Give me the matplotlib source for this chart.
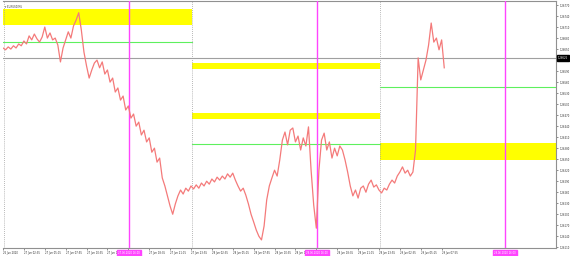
import numpy as np
import matplotlib.pyplot as plt
from matplotlib.patches import Rectangle
import matplotlib.transforms as mtransforms

# EURUSD M5 closes, one value every 20 minutes from 26 Jun 2020 23:55
close = [
    1.26653, 1.26648, 1.26656, 1.26650, 1.26659, 1.26653, 1.26664, 1.26659, 1.26672, 1.26664,
    1.26686, 1.26675, 1.26691, 1.26678, 1.26669, 1.26683, 1.26710, 1.26680, 1.26694, 1.26675,
    1.26680, 1.26661, 1.26615, 1.26653, 1.26675, 1.26697, 1.26680, 1.26713, 1.26729, 1.26749,
    1.26702, 1.26642, 1.26604, 1.26571, 1.26593, 1.26612, 1.26620, 1.26599, 1.26615, 1.26582,
    1.26593, 1.26560, 1.26571, 1.26533, 1.26544, 1.26511, 1.26522, 1.26484, 1.26495, 1.26462,
    1.26473, 1.26440, 1.26451, 1.26416, 1.26429, 1.26397, 1.26408, 1.26369, 1.26380, 1.26342,
    1.26353, 1.26299, 1.26277, 1.26250, 1.26222, 1.26200, 1.26228, 1.26250, 1.26266, 1.26255,
    1.26271, 1.26263, 1.26277, 1.26269, 1.26280, 1.26271, 1.26285, 1.26277, 1.26290, 1.26282,
    1.26296, 1.26288, 1.26301, 1.26293, 1.26304, 1.26296, 1.26310, 1.26301, 1.26312, 1.26293,
    1.26277, 1.26263, 1.26271, 1.26252, 1.26228, 1.26200, 1.26179, 1.26157, 1.26140, 1.26130,
    1.26168, 1.26239, 1.26277, 1.26299, 1.26320, 1.26304, 1.26348, 1.26402, 1.26424, 1.26389,
    1.26429, 1.26435, 1.26397, 1.26413, 1.26375, 1.26408, 1.26386, 1.26438, 1.26320, 1.26225,
    1.26162, 1.26320, 1.26402, 1.26421, 1.26375, 1.26397, 1.26353, 1.26380, 1.26359, 1.26386,
    1.26375, 1.26348, 1.26315, 1.26277, 1.26250, 1.26266, 1.26244, 1.26271, 1.26277, 1.26260,
    1.26282, 1.26293, 1.26274, 1.26280, 1.26266, 1.26258, 1.26271, 1.26266, 1.26282, 1.26293,
    1.26285, 1.26304, 1.26315, 1.26329, 1.26312, 1.26320, 1.26304, 1.26315, 1.26375, 1.26626,
    1.26566, 1.26593, 1.26620, 1.26661, 1.26721, 1.26669, 1.26680, 1.26648, 1.26675, 1.26599,
]
bar_minutes = 20
chart_end = 4236  # minutes shown on the x axis

day_starts = [5, 1445, 2885]
session_marks = [965, 2405, 3845]
session_labels = ["27.06.2020 16:00", "28.06.2020 16:00", "29.06.2020 16:00"]

# supply / demand zones: start, end, low, high
zone_start = [0, 1445, 1445, 2885]
zone_end = [1445, 2885, 2885, chart_end]
zone_low = [1.26716, 1.26596, 1.26460, 1.26348]
zone_high = [1.26760, 1.26612, 1.26476, 1.26394]

level_start = [0, 1445, 2885]
level_end = [1445, 2885, chart_end]
level_price = [1.26669, 1.26391, 1.26547]

current_price = 1.26626

price_ticks = np.round(1.26770 - 0.0003 * np.arange(23), 5)
time_ticks = np.arange(22) * 160
time_labels = [
    "26 Jun 2020", "27 Jun 02:35", "27 Jun 05:15", "27 Jun 07:55", "27 Jun 10:35",
    "27 Jun 13:15", "", "27 Jun 18:35", "27 Jun 21:15", "27 Jun 23:55",
    "28 Jun 02:35", "28 Jun 05:15", "28 Jun 07:55", "28 Jun 10:35", "28 Jun 13:15",
    "", "28 Jun 18:35", "28 Jun 21:15", "28 Jun 23:55", "29 Jun 02:35",
    "29 Jun 05:15", "29 Jun 07:55",
]

times = np.arange(len(close)) * bar_minutes
fs = 1.8

fig = plt.figure(figsize=(5.7, 2.56), dpi=100)
ax = fig.add_axes([3 / 570, 8 / 256, 553 / 570, 247 / 256])
ax.set_xlim(0, chart_end)
ax.set_ylim(1.26108, 1.26781)

for s, e, lo, hi in zip(zone_start, zone_end, zone_low, zone_high):
    ax.add_patch(Rectangle((s, lo), e - s, hi - lo, color="#ffff00", lw=0, zorder=1))

for s, e, p in zip(level_start, level_end, level_price):
    ax.plot([s, e], [p, p], color="#5ef05e", lw=0.8, zorder=2)

for d in day_starts:
    ax.axvline(d, color="#a0a0a0", lw=0.6, ls=(0, (1, 1.5)), zorder=2)

ax.axhline(current_price, color="#a0a0a0", lw=0.8, zorder=2)

for m in session_marks:
    ax.axvline(m, color="#ff44ff", lw=1.0, zorder=3)

ax.plot(times, close, color="#f47a7a", lw=0.9, zorder=4)

# axes styling
ax.spines["left"].set_visible(False)
for side in ["top", "right", "bottom"]:
    ax.spines[side].set_color("#909090")
    ax.spines[side].set_linewidth(0.8)

ax.yaxis.tick_right()
ax.set_yticks(price_ticks, [f"{p:.5f}" for p in price_ticks])
ax.tick_params(axis="y", labelsize=fs, length=1.5, width=0.5, color="#606060",
               labelcolor="#303030", pad=1)
ax.set_xticks(time_ticks, time_labels)
ax.tick_params(axis="x", labelsize=fs, length=1.5, width=0.5, color="#606060",
               labelcolor="#303030", pad=1)
for lbl in ax.get_xticklabels():
    lbl.set_horizontalalignment("left")

# current price tag on the price scale
ax.text(1.003, current_price, f"{current_price:.5f}",
        transform=mtransforms.blended_transform_factory(ax.transAxes, ax.transData),
        fontsize=fs, color="white", va="center", ha="left",
        bbox=dict(boxstyle="square,pad=0.3", fc="black", ec="black"), clip_on=False)

# time tags for the vertical lines
tr = mtransforms.blended_transform_factory(ax.transData, ax.transAxes)
for m, lab in zip(session_marks, session_labels):
    ax.text(m, -0.014, lab, transform=tr, fontsize=fs, color="white", va="top", ha="center",
            bbox=dict(boxstyle="square,pad=0.4", fc="#ff44ff", ec="#ff44ff"), clip_on=False)

ax.text(0.004, 0.985, "\u25be EURUSD,M5", transform=ax.transAxes, fontsize=fs,
        color="#303030", va="top", ha="left")

fig.savefig("out.png", dpi=100)
